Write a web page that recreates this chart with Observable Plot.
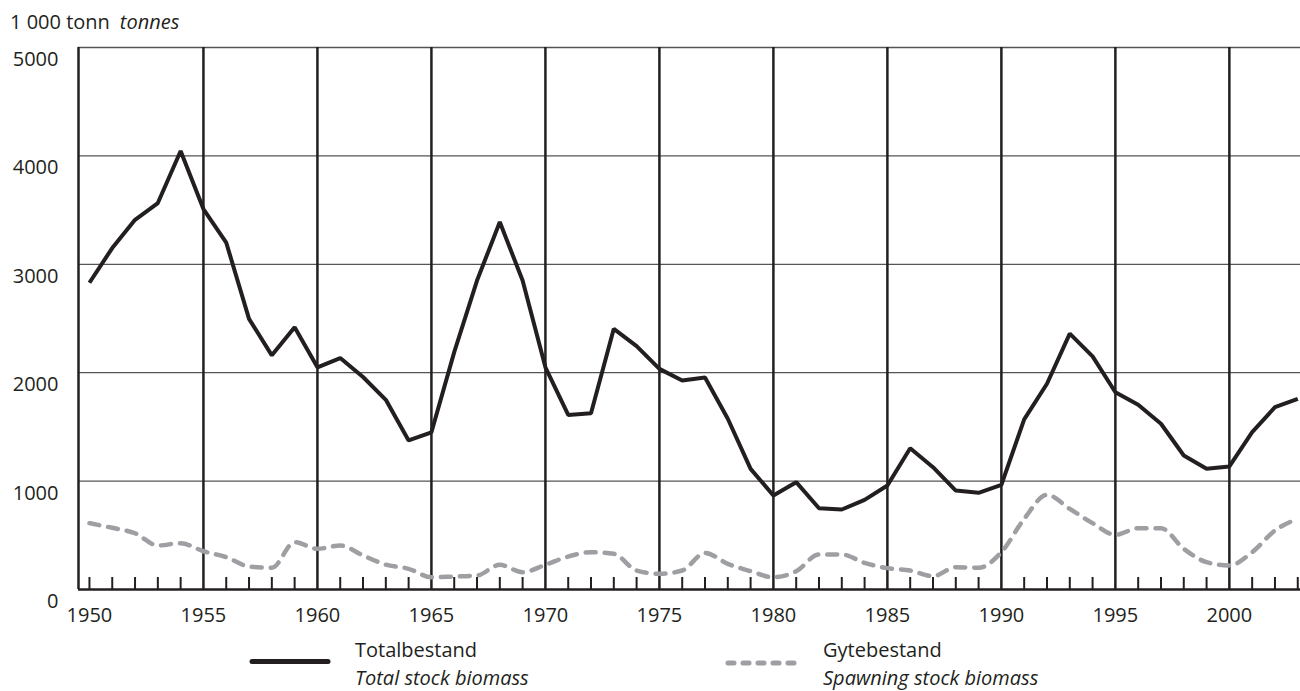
<!DOCTYPE html>
<html>
<head>
<meta charset="utf-8">
<script src="https://cdn.jsdelivr.net/npm/d3@7"></script>
<script src="https://cdn.jsdelivr.net/npm/@observablehq/plot@0.6"></script>
<style>
  body { margin: 0; background: #fff; font-family: 'Open Sans', sans-serif; color: #231f20; }
  svg { display: block; }
  #chart svg text { font-size: 20px; }
</style>
</head>
<body>
<div id="header"></div>
<div id="chart"></div>
<div id="legend"></div>
<script>
// ---- data ----
const years = [1950,1951,1952,1953,1954,1955,1956,1957,1958,1959,
               1960,1961,1962,1963,1964,1965,1966,1967,1968,1969,
               1970,1971,1972,1973,1974,1975,1976,1977,1978,1979,
               1980,1981,1982,1983,1984,1985,1986,1987,1988,1989,
               1990,1991,1992,1993,1994,1995,1996,1997,1998,1999,
               2000,2001,2002,2003];
const totalStock = [2830,3150,3410,3565,4045,3510,3200,2497,2160,2420,
                    2050,2135,1960,1750,1375,1450,2190,2850,3390,2850,
                    2050,1610,1625,2405,2245,2035,1928,1955,1575,1113,
                    867,990,750,738,827,960,1303,1128,913,892,
                    965,1570,1898,2360,2150,1820,1704,1529,1236,1113,
                    1135,1451,1682,1759];
const spawningStock = [612,569,519,406,427,353,298,212,200,436,
                       375,406,314,229,191,113,120,129,228,160,
                       228,304,344,329,175,145,175,337,237,169,
                       113,169,323,323,246,197,175,123,206,200,
                       344,652,873,744,612,505,565,565,375,252,
                       221,344,544,652];
const yTicks = [0,1000,2000,3000,4000,5000];
const xLabelYears = [1950,1955,1960,1965,1970,1975,1980,1985,1990,1995,2000];
const majorYears = [1955,1960,1965,1970,1975,1980,1985,1990,1995,2000];
const unitLabel = "1 000 tonn";
const unitLabelEn = "tonnes";
const seriesNames = [
  {no: "Totalbestand", en: "Total stock biomass"},
  {no: "Gytebestand", en: "Spawning stock biomass"}
];

const rows = years.map((y, i) => ({year: y, total: totalStock[i], spawning: spawningStock[i]}));
const minorYears = years.filter(y => !majorYears.includes(y));

const INK = "#231f20";
const GREY = "#9d9fa2";
const xDomain = [1949.52, 2003.12];

// ---- header ----
const header = d3.select("#header").append("svg").attr("width", 1300).attr("height", 36);
const ht = header.append("text").attr("x", 10).attr("y", 29)
  .attr("font-size", 20).attr("fill", INK).attr("font-family", "'Open Sans'");
ht.append("tspan").text(unitLabel);
ht.append("tspan").attr("dx", 10).attr("font-style", "italic").text(unitLabelEn);

// ---- chart ----
const chart = Plot.plot({
  width: 1300,
  height: 594,
  marginTop: 11,
  marginBottom: 41,
  marginLeft: 78,
  marginRight: 0,
  style: {fontFamily: "'Open Sans'", fontSize: "20px", color: INK, background: "white"},
  x: {domain: xDomain},
  y: {domain: [0, 5000]},
  marks: [
    Plot.ruleY(yTicks.filter(d => d > 0), {stroke: "#555", strokeWidth: 1.3}),
    Plot.ruleX(majorYears, {y1: 0, y2: 5000, stroke: INK, strokeWidth: 2.5}),
    Plot.tickX(minorYears, {x: d => d, insetTop: 530, stroke: INK, strokeWidth: 2}),
    Plot.ruleX([xDomain[0]], {stroke: INK, strokeWidth: 2.5}),
    Plot.ruleY([0], {stroke: INK, strokeWidth: 2.5}),
    Plot.line(rows, {x: "year", y: "spawning", stroke: GREY, strokeWidth: 4.5,
      strokeDasharray: "10,9", strokeLinecap: "round", curve: "monotone-x"}),
    Plot.line(rows, {x: "year", y: "total", stroke: INK, strokeWidth: 4,
      strokeLinejoin: "miter", strokeLinecap: "butt"}),
    Plot.axisY(yTicks, {tickSize: 0, tickPadding: 20, dy: 12, fontSize: 20,
      tickFormat: d => String(d), label: null}),
    Plot.axisX(xLabelYears, {tickSize: 0, tickPadding: 18, tickFormat: d => String(d),
      fontSize: 20, label: null})
  ]
});
document.getElementById("chart").appendChild(chart);

// ---- legend ----
const lg = d3.select("#legend").append("svg").attr("width", 1300).attr("height", 61)
  .attr("font-family", "'Open Sans'").attr("font-size", 20).attr("fill", INK);
// solid
lg.append("line").attr("x1", 252).attr("x2", 328).attr("y1", 31.5).attr("y2", 31.5)
  .attr("stroke", INK).attr("stroke-width", 5).attr("stroke-linecap", "round");
lg.append("text").attr("x", 355).attr("y", 27).text(seriesNames[0].no);
lg.append("text").attr("x", 355).attr("y", 55).attr("font-style", "italic").text(seriesNames[0].en);
// dashed
lg.append("line").attr("x1", 728).attr("x2", 800).attr("y1", 33).attr("y2", 33)
  .attr("stroke", GREY).attr("stroke-width", 5).attr("stroke-linecap", "round")
  .attr("stroke-dasharray", "6,9");
lg.append("text").attr("x", 823).attr("y", 27).text(seriesNames[1].no);
lg.append("text").attr("x", 823).attr("y", 55).attr("font-style", "italic").text(seriesNames[1].en);
</script>
</body>
</html>
